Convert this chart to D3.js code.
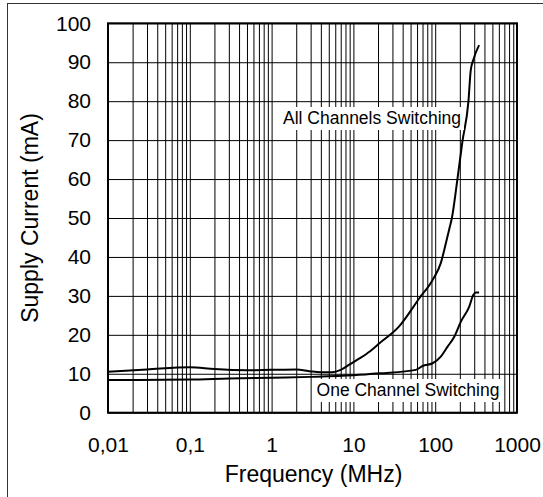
<!DOCTYPE html>
<html>
<head>
<meta charset="utf-8">
<script src="https://cdn.jsdelivr.net/npm/d3@7"></script>
<style>
  html, body { margin: 0; padding: 0; background: #fff; }
  svg { display: block; font-family: "Liberation Sans", Arial, sans-serif; }
</style>
</head>
<body>
<svg id="chart" width="543" height="497"></svg>
<script>
// ---- data ----
const xTickValues = [0.01, 0.1, 1, 10, 100, 1000];
const xTickLabels = ["0,01", "0,1", "1", "10", "100", "1000"];
const yTickValues = [0, 10, 20, 30, 40, 50, 60, 70, 80, 90, 100];

const allFreq = [0.01, 0.03, 0.1, 0.2, 0.5, 1, 2, 3, 4, 5.5, 7, 9, 12, 16, 21, 36, 64, 93, 117, 135, 148, 160, 187, 215, 255, 272, 292, 344];
const allCurrent = [10.5, 11.1, 11.7, 11.2, 10.9, 11.0, 11.1, 10.6, 10.4, 10.4, 11.0, 12.4, 14.0, 15.8, 17.9, 22.1, 29.4, 34.1, 38.4, 43.5, 47.0, 50.0, 60.0, 69.6, 80.0, 88.0, 90.6, 94.4];

const oneFreq = [0.01, 0.1, 0.3, 1, 3, 10, 21, 58, 70, 93, 117, 141, 171, 206, 260, 292, 313, 344];
const oneCurrent = [8.4, 8.5, 8.8, 9.0, 9.2, 9.6, 10.1, 11.0, 12.0, 12.7, 14.4, 16.9, 19.5, 23.4, 27.2, 30.2, 30.9, 30.9];

const seriesLabels = ["All Channels Switching", "One Channel Switching"];
const xTitle = "Frequency (MHz)";
const yTitle = "Supply Current (mA)";

// ---- layout ----
const svg = d3.select("#chart");
const L = 108, R = 517, T = 23.3, B = 412.7;

const x = d3.scaleLog().domain([0.01, 1000]).range([L, R]);
const y = d3.scaleLinear().domain([0, 100]).range([B, T]);

// outer frame (right/bottom edges fall outside the picture)
svg.append("rect").attr("x", 7.5).attr("y", 3.5).attr("width", 600).attr("height", 600)
  .attr("fill", "none").attr("stroke", "#333").attr("stroke-width", 1);

// minor + major vertical grid values
const gridX = [];
for (let e = -2; e < 3; e++) {
  for (let m = 1; m <= 9; m++) gridX.push(m * Math.pow(10, e));
}
gridX.push(1000);

const g = svg.append("g");

// vertical gridlines
g.append("g")
  .attr("transform", `translate(0,${B})`)
  .call(d3.axisBottom(x).tickValues(gridX).tickSize(-(B - T)).tickFormat(""))
  .call(s => s.select(".domain").remove())
  .call(s => s.selectAll("line").attr("stroke", "#000").attr("stroke-width", 1));

// horizontal gridlines
g.append("g")
  .attr("transform", `translate(${L},0)`)
  .call(d3.axisLeft(y).tickValues(yTickValues).tickSize(-(R - L)).tickFormat(""))
  .call(s => s.select(".domain").remove())
  .call(s => s.selectAll("line").attr("stroke", "#000").attr("stroke-width", 1));

// curves
const line = d3.line()
  .x(d => x(d[0]))
  .y(d => y(d[1]))
  .curve(d3.curveMonotoneX);

const allData = allFreq.map((f, i) => [f, allCurrent[i]]);
const oneData = oneFreq.map((f, i) => [f, oneCurrent[i]]);

svg.append("path").datum(allData).attr("d", line)
  .attr("fill", "none").attr("stroke", "#000").attr("stroke-width", 2);
svg.append("path").datum(oneData).attr("d", line)
  .attr("fill", "none").attr("stroke", "#000").attr("stroke-width", 2);

// labels with white background
function boxedLabel(text, cx, baseline) {
  const grp = svg.append("g");
  const t = grp.append("text").attr("x", cx).attr("y", baseline)
    .attr("text-anchor", "middle").attr("font-size", 17.5).attr("fill", "#000").text(text);
  const bb = t.node().getBBox();
  grp.insert("rect", "text")
    .attr("x", bb.x - 3).attr("y", bb.y - 1)
    .attr("width", bb.width + 6).attr("height", bb.height + 3)
    .attr("fill", "#fff");
}
boxedLabel(seriesLabels[0], 372, 124);
boxedLabel(seriesLabels[1], 408, 396);

// plot border
svg.append("rect").attr("x", L).attr("y", T).attr("width", R - L).attr("height", B - T)
  .attr("fill", "none").attr("stroke", "#000").attr("stroke-width", 2);

// x axis labels
svg.append("g")
  .attr("transform", `translate(0,${B})`)
  .call(d3.axisBottom(x).tickValues(xTickValues).tickSize(0).tickPadding(24)
    .tickFormat((d, i) => xTickLabels[i]))
  .call(s => s.select(".domain").remove())
  .call(s => s.selectAll("text").attr("font-size", 21).attr("fill", "#000")
    .attr("font-family", "'Liberation Sans', Arial, sans-serif"));

// y axis labels
svg.append("g")
  .attr("transform", `translate(${L},0)`)
  .call(d3.axisLeft(y).tickValues(yTickValues).tickSize(0).tickPadding(17))
  .call(s => s.select(".domain").remove())
  .call(s => s.selectAll("text").attr("font-size", 21).attr("fill", "#000")
    .attr("font-family", "'Liberation Sans', Arial, sans-serif"));

// axis titles
svg.append("text").attr("x", (L + R) / 2 + 1).attr("y", 481.5)
  .attr("text-anchor", "middle").attr("font-size", 23).attr("fill", "#000").text(xTitle);

svg.append("text")
  .attr("transform", `translate(38,${(T + B) / 2}) rotate(-90)`)
  .attr("text-anchor", "middle").attr("font-size", 23).attr("fill", "#000").text(yTitle);
</script>
</body>
</html>
